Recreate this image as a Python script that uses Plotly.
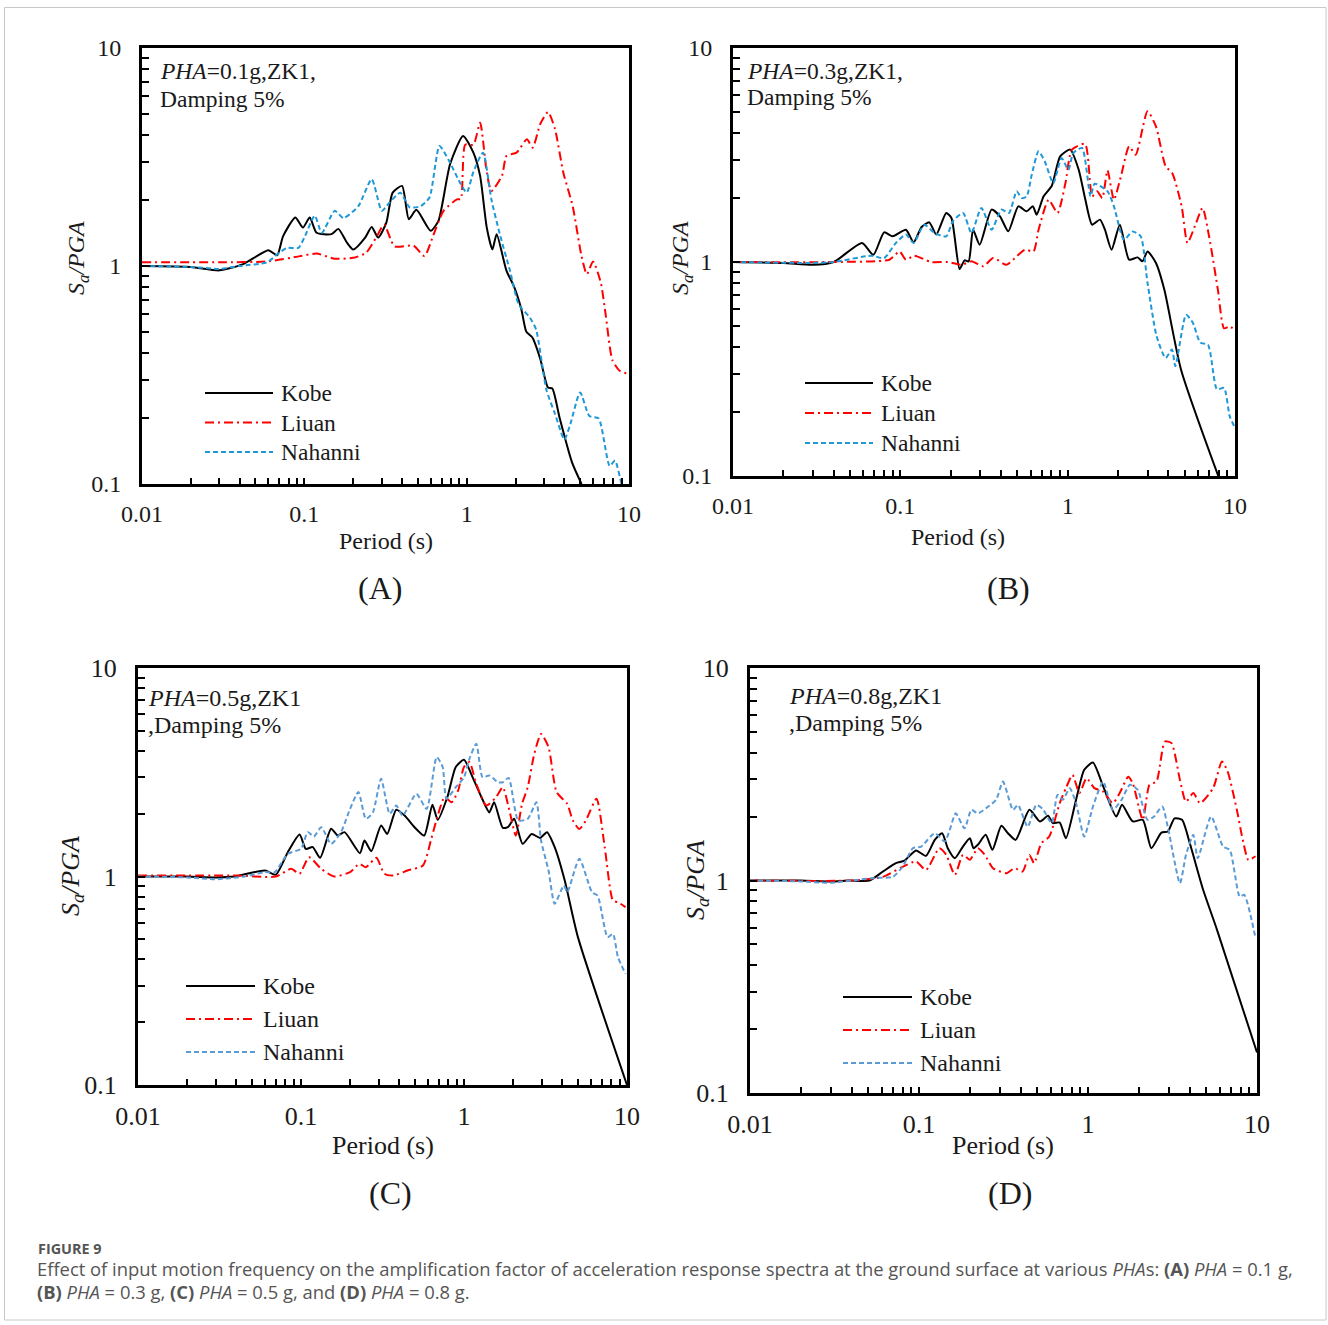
import plotly.graph_objects as go

W, H = 1328, 1325

# ---- response spectra: period (s) and Sa/PGA for each panel ----
A_T_kobe = [0.01, 0.02, 0.03, 0.042, 0.06, 0.068, 0.074, 0.088, 0.098, 0.108, 0.119, 0.147, 0.162, 0.183, 0.2, 0.237, 0.26, 0.285, 0.32, 0.35, 0.4, 0.44, 0.49, 0.6, 0.67, 0.79, 0.95, 1.1, 1.21, 1.33, 1.44, 1.53, 1.76, 1.95, 2.17, 2.33, 2.54, 2.84, 3.17, 3.37, 3.75, 4.45, 5.1]
A_S_kobe = [1.0, 0.99, 0.955, 1.02, 1.18, 1.12, 1.37, 1.67, 1.50, 1.67, 1.42, 1.40, 1.48, 1.28, 1.19, 1.35, 1.51, 1.35, 1.58, 2.17, 2.33, 1.64, 1.81, 1.45, 1.61, 2.93, 3.95, 3.31, 2.59, 1.50, 1.19, 1.40, 0.95, 0.81, 0.635, 0.50, 0.47, 0.375, 0.277, 0.274, 0.199, 0.126, 0.1]
A_T_liuan = [0.01, 0.03, 0.06, 0.094, 0.119, 0.154, 0.2, 0.24, 0.28, 0.31, 0.36, 0.47, 0.55, 0.62, 0.72, 0.87, 0.92, 0.98, 1.10, 1.21, 1.33, 1.42, 1.65, 1.76, 2.03, 2.35, 2.55, 2.84, 3.17, 3.5, 3.94, 4.5, 5.1, 5.5, 6.0, 6.7, 7.2, 7.9, 8.8, 10]
A_S_liuan = [1.04, 1.04, 1.05, 1.11, 1.14, 1.08, 1.09, 1.15, 1.37, 1.55, 1.23, 1.24, 1.11, 1.37, 1.79, 2.02, 2.03, 3.6, 3.6, 4.54, 2.68, 2.21, 2.59, 3.2, 3.31, 3.81, 3.49, 4.48, 5.09, 4.25, 2.68, 1.88, 1.11, 0.916, 1.05, 0.84, 0.59, 0.37, 0.33, 0.32]
A_T_nahanni = [0.01, 0.02, 0.03, 0.04, 0.059, 0.068, 0.078, 0.092, 0.10, 0.116, 0.128, 0.154, 0.174, 0.215, 0.26, 0.30, 0.33, 0.39, 0.445, 0.52, 0.59, 0.68, 0.78, 0.91, 1.0, 1.1, 1.26, 1.42, 1.6, 1.85, 2.09, 2.45, 2.68, 3.1, 3.5, 4.0, 4.35, 5.0, 5.7, 6.5, 7.6, 8.2, 9.0, 9.5]
A_S_nahanni = [1.0, 0.99, 0.97, 1.0, 1.04, 1.13, 1.21, 1.21, 1.35, 1.70, 1.42, 1.79, 1.66, 1.88, 2.50, 1.79, 1.93, 2.17, 1.86, 1.88, 2.06, 3.55, 3.03, 2.41, 2.17, 2.7, 3.31, 2.02, 1.40, 0.95, 0.667, 0.58, 0.51, 0.27, 0.21, 0.16, 0.188, 0.263, 0.205, 0.2, 0.121, 0.128, 0.1, 0.09]

B_T_kobe = [0.01, 0.02, 0.03, 0.04, 0.059, 0.069, 0.080, 0.090, 0.108, 0.120, 0.134, 0.149, 0.164, 0.188, 0.202, 0.226, 0.242, 0.256, 0.272, 0.298, 0.351, 0.394, 0.442, 0.507, 0.569, 0.619, 0.653, 0.718, 0.804, 0.902, 1.035, 1.164, 1.276, 1.40, 1.56, 1.67, 1.83, 2.05, 2.33, 2.62, 2.80, 3.00, 3.37, 3.78, 4.76, 8.1]
B_S_kobe = [1.0, 0.99, 0.97, 1.0, 1.227, 1.08, 1.376, 1.318, 1.415, 1.235, 1.457, 1.532, 1.343, 1.695, 1.605, 0.927, 1.018, 1.007, 1.415, 1.205, 1.757, 1.634, 1.391, 1.82, 1.725, 1.82, 1.664, 2.027, 2.273, 3.116, 3.35, 2.70, 1.954, 1.494, 1.577, 1.415, 1.142, 1.494, 1.025, 1.051, 1.007, 1.121, 0.989, 0.743, 0.314, 0.096]
B_T_liuan = [0.01, 0.04, 0.086, 0.099, 0.108, 0.121, 0.153, 0.193, 0.232, 0.266, 0.313, 0.359, 0.431, 0.496, 0.556, 0.625, 0.67, 0.77, 0.87, 0.97, 1.06, 1.27, 1.40, 1.50, 1.61, 1.73, 1.89, 2.08, 2.33, 2.55, 3.0, 3.37, 3.85, 4.22, 4.8, 5.2, 5.8, 6.4, 7.0, 7.9, 8.6, 9.3, 10]
B_S_liuan = [1.0, 1.0, 1.025, 1.12, 1.025, 1.07, 1.0, 1.0, 0.97, 1.007, 0.955, 1.044, 0.97, 1.063, 1.142, 1.121, 1.415, 1.954, 1.695, 2.34, 3.35, 3.56, 2.027, 2.14, 1.99, 2.68, 1.954, 2.51, 3.47, 3.17, 5.06, 4.30, 2.80, 2.60, 1.82, 1.227, 1.494, 1.79, 1.318, 0.743, 0.49, 0.50, 0.48]
B_T_nahanni = [0.01, 0.03, 0.04, 0.067, 0.080, 0.094, 0.108, 0.120, 0.139, 0.160, 0.188, 0.206, 0.237, 0.266, 0.305, 0.351, 0.402, 0.446, 0.496, 0.531, 0.569, 0.61, 0.67, 0.73, 0.82, 0.92, 1.01, 1.08, 1.22, 1.37, 1.45, 1.73, 1.89, 2.17, 2.44, 2.73, 3.0, 3.4, 3.85, 4.2, 4.4, 5.1, 5.6, 6.2, 6.9, 7.8, 8.6, 9.3, 10]
B_S_nahanni = [1.0, 0.99, 1.0, 1.07, 1.044, 1.227, 1.343, 1.227, 1.494, 1.366, 1.318, 1.549, 1.695, 1.366, 1.79, 1.415, 1.757, 1.695, 2.14, 1.99, 2.027, 2.56, 3.29, 2.95, 2.34, 3.06, 2.70, 3.23, 3.41, 2.027, 2.32, 2.14, 1.82, 1.27, 1.39, 1.32, 0.80, 0.45, 0.356, 0.39, 0.326, 0.567, 0.52, 0.42, 0.41, 0.254, 0.258, 0.19, 0.168]

C_T_kobe = [0.01, 0.02, 0.03, 0.039, 0.060, 0.070, 0.083, 0.098, 0.107, 0.118, 0.131, 0.153, 0.168, 0.185, 0.23, 0.245, 0.27, 0.31, 0.338, 0.384, 0.432, 0.497, 0.57, 0.64, 0.69, 0.79, 0.89, 1.0, 1.13, 1.28, 1.43, 1.53, 1.73, 1.86, 2.03, 2.29, 2.6, 2.93, 3.23, 3.6, 4.15, 5.0, 10]
C_S_kobe = [1.0, 1.0, 0.99, 1.0, 1.068, 1.02, 1.308, 1.59, 1.357, 1.383, 1.229, 1.693, 1.572, 1.632, 1.294, 1.488, 1.323, 1.757, 1.60, 2.09, 1.96, 1.724, 1.572, 2.21, 1.87, 2.40, 3.35, 3.63, 2.99, 2.40, 2.03, 2.27, 1.712, 1.724, 1.89, 1.434, 1.60, 1.53, 1.632, 1.383, 0.957, 0.512, 0.1]
C_T_liuan = [0.01, 0.04, 0.07, 0.087, 0.098, 0.112, 0.133, 0.160, 0.20, 0.228, 0.25, 0.29, 0.325, 0.37, 0.45, 0.56, 0.63, 0.69, 0.76, 0.84, 0.92, 1.0, 1.08, 1.19, 1.37, 1.57, 1.73, 1.9, 2.08, 2.27, 2.46, 2.7, 2.97, 3.3, 3.7, 4.3, 4.65, 5.1, 5.6, 6.5, 7.3, 8.2, 8.8, 9.8]
C_S_liuan = [1.01, 1.01, 1.0, 1.088, 1.03, 1.238, 1.088, 1.0, 1.05, 1.15, 1.108, 1.229, 1.03, 1.011, 1.068, 1.129, 1.516, 1.96, 2.40, 2.27, 2.58, 3.35, 3.54, 2.78, 2.19, 2.40, 2.68, 2.07, 1.572, 2.23, 2.68, 3.88, 4.83, 4.17, 2.54, 2.23, 1.86, 1.69, 1.86, 2.36, 1.383, 0.767, 0.753, 0.713]
C_T_nahanni = [0.01, 0.02, 0.03, 0.045, 0.06, 0.069, 0.083, 0.1, 0.11, 0.12, 0.133, 0.153, 0.176, 0.20, 0.225, 0.25, 0.276, 0.31, 0.35, 0.384, 0.42, 0.51, 0.59, 0.68, 0.74, 0.78, 0.89, 1.0, 1.08, 1.19, 1.3, 1.43, 1.62, 1.73, 1.88, 2.15, 2.46, 2.78, 2.97, 3.3, 3.6, 4.1, 4.3, 5.1, 6.1, 6.6, 7.6, 8.2, 8.8, 9.8]
C_S_nahanni = [1.0, 0.99, 0.97, 1.0, 1.05, 1.05, 1.285, 1.357, 1.632, 1.555, 1.724, 1.434, 1.632, 2.11, 2.54, 1.89, 2.03, 2.94, 2.0, 2.19, 1.96, 2.49, 2.11, 3.74, 3.35, 2.36, 2.68, 2.99, 3.67, 4.33, 2.99, 3.05, 2.83, 2.83, 2.97, 1.86, 1.89, 2.27, 1.488, 1.068, 0.74, 0.905, 0.841, 1.215, 0.841, 0.81, 0.512, 0.531, 0.41, 0.341]

D_T_kobe = [0.01, 0.02, 0.03, 0.039, 0.051, 0.061, 0.073, 0.082, 0.096, 0.11, 0.124, 0.137, 0.148, 0.163, 0.182, 0.2, 0.21, 0.223, 0.248, 0.272, 0.307, 0.336, 0.373, 0.45, 0.52, 0.58, 0.62, 0.68, 0.74, 0.85, 0.95, 1.07, 1.23, 1.47, 1.59, 1.84, 2.11, 2.37, 2.72, 2.97, 3.25, 3.6, 4.0, 4.8, 5.8, 10]
D_S_kobe = [1.0, 1.0, 0.99, 1.0, 1.0, 1.10, 1.207, 1.24, 1.384, 1.306, 1.553, 1.67, 1.419, 1.274, 1.445, 1.58, 1.419, 1.472, 1.64, 1.394, 1.808, 1.67, 1.553, 2.15, 1.896, 2.016, 1.862, 1.875, 1.58, 2.40, 3.32, 3.59, 2.77, 2.0, 2.27, 1.896, 1.93, 1.419, 1.68, 1.70, 1.96, 1.93, 1.50, 0.904, 0.586, 0.155]
D_T_liuan = [0.01, 0.04, 0.061, 0.08, 0.096, 0.11, 0.132, 0.145, 0.163, 0.182, 0.2, 0.223, 0.245, 0.274, 0.33, 0.368, 0.41, 0.45, 0.48, 0.53, 0.59, 0.68, 0.74, 0.81, 0.89, 0.98, 1.09, 1.23, 1.4, 1.54, 1.73, 1.84, 2.11, 2.31, 2.54, 2.85, 3.12, 3.5, 3.8, 4.2, 4.6, 5.5, 6.2, 6.7, 7.6, 8.2, 8.9, 9.8]
D_S_liuan = [1.0, 1.0, 1.04, 1.16, 1.229, 1.12, 1.419, 1.32, 1.063, 1.32, 1.251, 1.419, 1.32, 1.143, 1.083, 1.143, 1.102, 1.32, 1.207, 1.498, 1.61, 2.31, 2.72, 3.14, 2.58, 3.03, 2.72, 2.62, 2.31, 2.58, 3.08, 2.87, 1.93, 2.82, 2.92, 4.51, 4.43, 2.97, 2.35, 2.58, 2.31, 2.72, 3.63, 3.26, 2.15, 1.58, 1.25, 1.30]
D_T_nahanni = [0.01, 0.02, 0.03, 0.04, 0.056, 0.07, 0.08, 0.092, 0.103, 0.124, 0.142, 0.152, 0.165, 0.186, 0.204, 0.223, 0.25, 0.286, 0.314, 0.36, 0.385, 0.44, 0.494, 0.54, 0.61, 0.66, 0.71, 0.78, 0.85, 0.95, 1.07, 1.23, 1.4, 1.58, 1.77, 1.97, 2.25, 2.46, 2.75, 2.99, 3.5, 3.8, 4.2, 4.46, 5.35, 6.3, 6.9, 7.9, 8.4, 9.8]
D_S_nahanni = [1.0, 0.99, 0.975, 1.0, 1.03, 1.04, 1.16, 1.419, 1.445, 1.67, 1.525, 1.73, 2.07, 1.76, 2.15, 2.07, 2.19, 2.40, 2.92, 2.15, 2.27, 1.79, 2.27, 2.17, 1.862, 2.53, 2.40, 2.72, 2.31, 1.61, 2.23, 2.92, 2.15, 2.40, 2.82, 2.67, 1.93, 2.0, 2.23, 1.73, 0.97, 1.32, 1.64, 1.274, 2.0, 1.445, 1.394, 0.84, 0.856, 0.536]

SERIES_NAMES = ["Kobe", "Liuan", "Nahanni"]
PANEL_LABELS = ["(A)", "(B)", "(C)", "(D)"]
PHA_LINES = [("<i>PHA</i>=0.1g,ZK1,", "Damping 5%"),
             ("<i>PHA</i>=0.3g,ZK1,", "Damping 5%"),
             ("<i>PHA</i>=0.5g,ZK1", ",Damping 5%"),
             ("<i>PHA</i>=0.8g,ZK1", ",Damping 5%")]
X_TICK_VALS = [0.01, 0.1, 1, 10]
X_TICK_LABELS = ["0.01", "0.1", "1", "10"]
Y_TICK_VALS = [0.1, 1, 10]
Y_TICK_LABELS = ["0.1", "1", "10"]

SERIF = "Liberation Serif, Times New Roman, serif"
INK = "#1a1a1a"
RED = "#FF0000"
DASH_DOT = "9px,4px,2px,4px"
DASHED = "5px,3px"

# panel geometry in pixels: frame left/right/top/bottom, text sizes and placement
PANELS = [
    dict(data=[(A_T_kobe, A_S_kobe), (A_T_liuan, A_S_liuan), (A_T_nahanni, A_S_nahanni)],
         frame=(142, 629, 48, 484), blue="#1E98D6", tick_fs=24, title_fs=24, text_fs=23.5,
         note=(158, 71, 28), leg=(205, 273, 393, 29.5), xt=(386, 541), yt=(78, 258), lab=(380, 588)),
    dict(data=[(B_T_kobe, B_S_kobe), (B_T_liuan, B_S_liuan), (B_T_nahanni, B_S_nahanni)],
         frame=(733, 1235, 48, 476), blue="#1E98D6", tick_fs=24, title_fs=24, text_fs=23.5,
         note=(745, 71, 26), leg=(805, 873, 383, 30), xt=(958, 537), yt=(682, 258), lab=(1008, 588)),
    dict(data=[(C_T_kobe, C_S_kobe), (C_T_liuan, C_S_liuan), (C_T_nahanni, C_S_nahanni)],
         frame=(138, 627, 668, 1085), blue="#5B9BD5", tick_fs=26, title_fs=26, text_fs=24,
         note=(146, 698, 27), leg=(186, 255, 986, 33), xt=(383, 1145), yt=(72, 876), lab=(390, 1193)),
    dict(data=[(D_T_kobe, D_S_kobe), (D_T_liuan, D_S_liuan), (D_T_nahanni, D_S_nahanni)],
         frame=(750, 1257, 668, 1093), blue="#5B9BD5", tick_fs=26, title_fs=26, text_fs=24,
         note=(787, 696, 27), leg=(843, 912, 997, 33), xt=(1003, 1145), yt=(697, 880), lab=(1010, 1193)),
]


def px(x):
    return x / W


def py(y):
    return 1 - y / H


def minor_log_ticks(decades):
    """2..9 multiples inside each decade, for unlabelled inside ticks."""
    return [k * d for d in decades for k in range(2, 10)]


x_minor = minor_log_ticks([0.01, 0.1, 1])
y_minor = minor_log_ticks([0.1, 1])

fig = go.Figure()
annotations = []
shapes = []

for p_i, P in enumerate(PANELS):
    n = "" if p_i == 0 else str(p_i + 1)
    xa, ya = "x" + n, "y" + n
    l, r, t, b = P["frame"]
    styles = [dict(color="black", width=2.0, dash="solid"),
              dict(color=RED, width=2.0, dash=DASH_DOT),
              dict(color=P["blue"], width=2.0, dash=DASHED)]
    for (T, S), name, st in zip(P["data"], SERIES_NAMES, styles):
        fig.add_trace(go.Scatter(
            x=T, y=S, mode="lines", name=name, showlegend=False,
            line=dict(color=st["color"], width=st["width"], dash=st["dash"],
                      shape="spline", smoothing=0.6),
            xaxis=xa, yaxis=ya, hoverinfo="skip"))

    common = dict(type="log", showgrid=False, zeroline=False, automargin=False,
                  showline=True, linecolor="black", linewidth=3, mirror=True,
                  ticks="inside", tickcolor="black", tickwidth=1.5, tickmode="array",
                  tickfont=dict(family=SERIF, size=P["tick_fs"], color=INK))
    fig.layout["xaxis" + n] = dict(
        common, domain=[px(l), px(r)], range=[-2, 1], anchor=ya,
        tickvals=X_TICK_VALS, ticktext=X_TICK_LABELS, ticklen=6, ticklabelstandoff=6,
        minor=dict(tickmode="array", tickvals=x_minor, ticks="inside", ticklen=6,
                   tickwidth=1.5, tickcolor="black", showgrid=False))
    fig.layout["yaxis" + n] = dict(
        common, domain=[py(b), py(t)], range=[-1, 1], anchor=xa,
        tickvals=Y_TICK_VALS, ticktext=Y_TICK_LABELS, ticklen=7, ticklabelstandoff=13,
        minor=dict(tickmode="array", tickvals=y_minor, ticks="inside", ticklen=7,
                   tickwidth=1.5, tickcolor="black", showgrid=False))

    tf = P["text_fs"]
    # condition note in the upper-left corner
    nx, ny, dy = P["note"]
    for j, line in enumerate(PHA_LINES[p_i]):
        annotations.append(dict(x=px(nx), y=py(ny + j * dy), xref="paper", yref="paper",
                                text=line, showarrow=False, xanchor="left", yanchor="middle",
                                font=dict(family=SERIF, size=tf, color=INK)))

    # in-plot key: sample line + record name
    x0, x1, y0, step = P["leg"]
    for j, (name, st) in enumerate(zip(SERIES_NAMES, styles)):
        yy = y0 + j * step
        shapes.append(dict(type="line", xref="paper", yref="paper",
                           x0=px(x0), x1=px(x1), y0=py(yy), y1=py(yy),
                           line=dict(color=st["color"], width=2, dash=st["dash"])))
        annotations.append(dict(x=px(x1 + 6), y=py(yy), xref="paper", yref="paper",
                                text=name, showarrow=False, xanchor="left", yanchor="middle",
                                font=dict(family=SERIF, size=tf, color=INK)))

    # axis titles and panel tag
    annotations.append(dict(x=px(P["xt"][0]), y=py(P["xt"][1]), xref="paper", yref="paper",
                            text="Period (s)", showarrow=False, xanchor="center", yanchor="middle",
                            font=dict(family=SERIF, size=P["title_fs"], color=INK)))
    annotations.append(dict(x=px(P["yt"][0]), y=py(P["yt"][1]), xref="paper", yref="paper",
                            text="<i>S</i><sub><i>a</i></sub><i>/PGA</i>", showarrow=False,
                            textangle=-90, xanchor="center", yanchor="middle",
                            font=dict(family=SERIF, size=P["title_fs"], color=INK)))
    annotations.append(dict(x=px(P["lab"][0]), y=py(P["lab"][1]), xref="paper", yref="paper",
                            text=PANEL_LABELS[p_i], showarrow=False, xanchor="center", yanchor="middle",
                            font=dict(family=SERIF, size=32, color=INK)))

# caption block
CAP = "#555555"
SANS = "Open Sans, Noto Sans, sans-serif"
annotations.append(dict(x=px(36), y=py(1248), xref="paper", yref="paper", text="<b>FIGURE 9</b>",
                        showarrow=False, xanchor="left", yanchor="middle",
                        font=dict(family=SANS, size=14.4, color=CAP)))
annotations.append(dict(x=px(35), y=py(1268), xref="paper", yref="paper",
                        text="Effect of input motion frequency on the amplification factor of acceleration "
                             "response spectra at the ground surface at various <i>PHA</i>s: <b>(A)</b> "
                             "<i>PHA</i> = 0.1 g,",
                        showarrow=False, xanchor="left", yanchor="middle",
                        font=dict(family=SANS, size=18.4, color=CAP)))
annotations.append(dict(x=px(35), y=py(1291), xref="paper", yref="paper",
                        text="<b>(B)</b> <i>PHA</i> = 0.3 g, <b>(C)</b> <i>PHA</i> = 0.5 g, and "
                             "<b>(D)</b> <i>PHA</i> = 0.8 g.",
                        showarrow=False, xanchor="left", yanchor="middle",
                        font=dict(family=SANS, size=18.4, color=CAP)))

# outer figure border
shapes.append(dict(type="rect", xref="paper", yref="paper",
                   x0=px(4.5), x1=px(1326), y0=py(1320), y1=py(7.5),
                   line=dict(color="#c8c8c8", width=1), layer="below"))

fig.update_layout(width=W, height=H, margin=dict(l=0, r=0, t=0, b=0, pad=0, autoexpand=False),
                  paper_bgcolor="white", plot_bgcolor="white",
                  showlegend=False, annotations=annotations, shapes=shapes)

fig.write_html("out.html")
